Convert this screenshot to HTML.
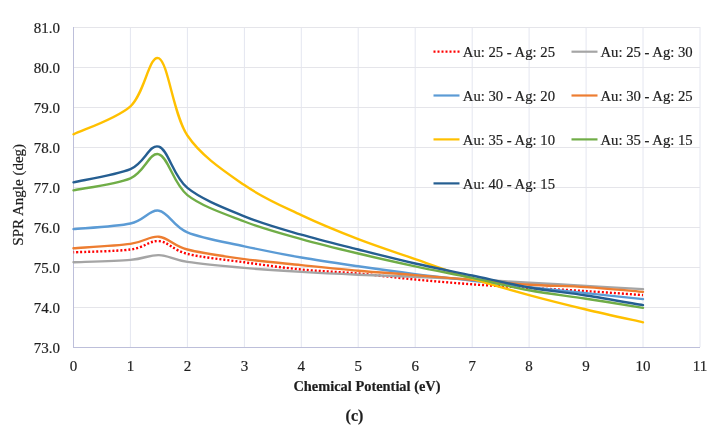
<!DOCTYPE html>
<html><head><meta charset="utf-8"><style>
html,body{margin:0;padding:0;background:#fff;}
body{width:715px;height:432px;overflow:hidden;}
svg{display:block;will-change:transform;}
text{font-family:"Liberation Serif",serif;fill:#1e1e1e;stroke:#1e1e1e;stroke-width:0.2px;}
.gv{stroke:#E4E6F0;stroke-width:1;}
.gh{stroke:#E5E5EA;stroke-width:1;}
.yl{font-size:15px;text-anchor:end;}
.xl{font-size:15px;text-anchor:middle;}
.lg{font-size:14.7px;}
.ax{stroke:#BDBFDA;stroke-width:1;}
.cv path{fill:none;stroke-width:2.4;stroke-linejoin:round;stroke-linecap:round;}
.lgl line{stroke-width:2.2;}
.cv path.dot,.lgl line.dot{stroke-dasharray:2 2;stroke-linecap:butt;}
.cv path.dot{stroke-dashoffset:1.2;}
.t1{font-size:14.4px;font-weight:bold;text-anchor:middle;}
.t2{font-size:15px;}
.t3{font-size:16px;font-weight:bold;text-anchor:middle;}
</style></head><body>
<svg width="715" height="432" viewBox="0 0 715 432">
<line x1="130.4" y1="27" x2="130.4" y2="347" class="gv"/>
<line x1="187.4" y1="27" x2="187.4" y2="347" class="gv"/>
<line x1="244.4" y1="27" x2="244.4" y2="347" class="gv"/>
<line x1="301.3" y1="27" x2="301.3" y2="347" class="gv"/>
<line x1="358.2" y1="27" x2="358.2" y2="347" class="gv"/>
<line x1="415.2" y1="27" x2="415.2" y2="347" class="gv"/>
<line x1="472.2" y1="27" x2="472.2" y2="347" class="gv"/>
<line x1="529.1" y1="27" x2="529.1" y2="347" class="gv"/>
<line x1="586.1" y1="27" x2="586.1" y2="347" class="gv"/>
<line x1="643.0" y1="27" x2="643.0" y2="347" class="gv"/>
<line x1="700.0" y1="27" x2="700.0" y2="347" class="gv"/>
<line x1="73" y1="27.5" x2="700" y2="27.5" class="gh"/>
<line x1="73" y1="67.5" x2="700" y2="67.5" class="gh"/>
<line x1="73" y1="107.5" x2="700" y2="107.5" class="gh"/>
<line x1="73" y1="147.5" x2="700" y2="147.5" class="gh"/>
<line x1="73" y1="187.5" x2="700" y2="187.5" class="gh"/>
<line x1="73" y1="227.5" x2="700" y2="227.5" class="gh"/>
<line x1="73" y1="267.5" x2="700" y2="267.5" class="gh"/>
<line x1="73" y1="307.5" x2="700" y2="307.5" class="gh"/>
<line x1="73.5" y1="27" x2="73.5" y2="348" class="ax"/>
<line x1="73" y1="347.5" x2="700" y2="347.5" class="ax"/>
<text x="60" y="32.9" class="yl">81.0</text>
<text x="60" y="72.9" class="yl">80.0</text>
<text x="60" y="112.9" class="yl">79.0</text>
<text x="60" y="152.9" class="yl">78.0</text>
<text x="60" y="192.9" class="yl">77.0</text>
<text x="60" y="232.9" class="yl">76.0</text>
<text x="60" y="272.9" class="yl">75.0</text>
<text x="60" y="312.9" class="yl">74.0</text>
<text x="60" y="352.9" class="yl">73.0</text>
<text x="73.5" y="371" class="xl">0</text>
<text x="130.4" y="371" class="xl">1</text>
<text x="187.4" y="371" class="xl">2</text>
<text x="244.4" y="371" class="xl">3</text>
<text x="301.3" y="371" class="xl">4</text>
<text x="358.2" y="371" class="xl">5</text>
<text x="415.2" y="371" class="xl">6</text>
<text x="472.2" y="371" class="xl">7</text>
<text x="529.1" y="371" class="xl">8</text>
<text x="586.1" y="371" class="xl">9</text>
<text x="643.0" y="371" class="xl">10</text>
<text x="700.0" y="371" class="xl">11</text>
<g class="cv">
<path d="M73.50,252.30 C82.99,251.83 116.21,251.37 130.45,249.50 C144.69,247.63 149.43,240.37 158.93,241.10 C168.42,241.83 173.16,250.37 187.40,253.90 C201.64,257.43 225.37,259.70 244.35,262.30 C263.33,264.90 282.32,267.63 301.30,269.50 C320.28,271.37 339.27,271.83 358.25,273.50 C377.23,275.17 396.22,277.70 415.20,279.50 C434.18,281.30 453.17,282.90 472.15,284.30 C491.13,285.70 510.12,286.77 529.10,287.90 C548.08,289.03 567.07,289.90 586.05,291.10 C605.03,292.30 633.51,294.43 643.00,295.10" stroke="#FF0000" class="dot"/>
<path d="M73.50,262.30 C82.99,261.90 116.21,261.10 130.45,259.90 C144.69,258.70 149.43,254.77 158.93,255.10 C168.42,255.43 173.16,259.77 187.40,261.90 C201.64,264.03 225.37,266.23 244.35,267.90 C263.33,269.57 282.32,270.77 301.30,271.90 C320.28,273.03 339.27,273.90 358.25,274.70 C377.23,275.50 396.22,275.90 415.20,276.70 C434.18,277.50 453.17,278.50 472.15,279.50 C491.13,280.50 510.12,281.63 529.10,282.70 C548.08,283.77 567.07,284.83 586.05,285.90 C605.03,286.97 633.51,288.57 643.00,289.10" stroke="#A5A5A5"/>
<path d="M73.50,229.10 C82.99,228.17 116.21,226.57 130.45,223.50 C144.69,220.43 149.43,209.23 158.93,210.70 C168.42,212.17 173.16,226.37 187.40,232.30 C201.64,238.23 225.37,242.10 244.35,246.30 C263.33,250.50 282.32,254.17 301.30,257.50 C320.28,260.83 339.27,263.53 358.25,266.30 C377.23,269.07 396.22,271.70 415.20,274.10 C434.18,276.50 453.17,278.53 472.15,280.70 C491.13,282.87 510.12,285.03 529.10,287.10 C548.08,289.17 567.07,291.10 586.05,293.10 C605.03,295.10 633.51,298.10 643.00,299.10" stroke="#5B9BD5"/>
<path d="M73.50,248.30 C82.99,247.57 116.21,245.83 130.45,243.90 C144.69,241.97 149.43,235.77 158.93,236.70 C168.42,237.63 173.16,245.77 187.40,249.50 C201.64,253.23 225.37,256.50 244.35,259.10 C263.33,261.70 282.32,263.17 301.30,265.10 C320.28,267.03 339.27,269.03 358.25,270.70 C377.23,272.37 396.22,273.57 415.20,275.10 C434.18,276.63 453.17,278.30 472.15,279.90 C491.13,281.50 510.12,283.50 529.10,284.70 C548.08,285.90 567.07,285.90 586.05,287.10 C605.03,288.30 633.51,291.10 643.00,291.90" stroke="#ED7D31"/>
<path d="M73.50,134.30 C82.99,129.63 116.21,118.97 130.45,106.30 C144.69,93.63 149.43,53.43 158.93,58.30 C168.42,63.17 173.16,114.37 187.40,135.50 C201.64,156.63 225.37,171.83 244.35,185.10 C263.33,198.37 282.32,206.10 301.30,215.10 C320.28,224.10 339.27,231.77 358.25,239.10 C377.23,246.43 396.22,252.50 415.20,259.10 C434.18,265.70 453.17,272.70 472.15,278.70 C491.13,284.70 510.12,289.97 529.10,295.10 C548.08,300.23 567.07,304.97 586.05,309.50 C605.03,314.03 633.51,320.17 643.00,322.30" stroke="#FFC000"/>
<path d="M73.50,190.30 C82.99,188.30 116.21,184.30 130.45,178.30 C144.69,172.30 149.43,151.50 158.93,154.30 C168.42,157.10 173.16,183.90 187.40,195.10 C201.64,206.30 225.37,214.17 244.35,221.50 C263.33,228.83 282.32,233.77 301.30,239.10 C320.28,244.43 339.27,248.97 358.25,253.50 C377.23,258.03 396.22,262.23 415.20,266.30 C434.18,270.37 453.17,273.90 472.15,277.90 C491.13,281.90 510.12,286.83 529.10,290.30 C548.08,293.77 567.07,295.77 586.05,298.70 C605.03,301.63 633.51,306.37 643.00,307.90" stroke="#70AD47"/>
<path d="M73.50,182.30 C82.99,180.10 116.21,175.03 130.45,169.10 C144.69,163.17 149.43,143.57 158.93,146.70 C168.42,149.83 173.16,176.30 187.40,187.90 C201.64,199.50 225.37,208.50 244.35,216.30 C263.33,224.10 282.32,229.17 301.30,234.70 C320.28,240.23 339.27,244.70 358.25,249.50 C377.23,254.30 396.22,259.17 415.20,263.50 C434.18,267.83 453.17,271.50 472.15,275.50 C491.13,279.50 510.12,284.17 529.10,287.50 C548.08,290.83 567.07,292.57 586.05,295.50 C605.03,298.43 633.51,303.50 643.00,305.10" stroke="#255E91"/>
</g>
<g class="lgl">
<line x1="433.5" y1="51.7" x2="459.5" y2="51.7" stroke="#FF0000" class="dot"/>
<text x="462.8" y="56.9" class="lg">Au: 25 - Ag: 25</text>
<line x1="571.5" y1="51.7" x2="597.5" y2="51.7" stroke="#A5A5A5"/>
<text x="600.5" y="56.9" class="lg">Au: 25 - Ag: 30</text>
<line x1="433.5" y1="95.5" x2="459.5" y2="95.5" stroke="#5B9BD5"/>
<text x="462.8" y="100.7" class="lg">Au: 30 - Ag: 20</text>
<line x1="571.5" y1="95.5" x2="597.5" y2="95.5" stroke="#ED7D31"/>
<text x="600.5" y="100.7" class="lg">Au: 30 - Ag: 25</text>
<line x1="433.5" y1="139.4" x2="459.5" y2="139.4" stroke="#FFC000"/>
<text x="462.8" y="144.6" class="lg">Au: 35 - Ag: 10</text>
<line x1="571.5" y1="139.4" x2="597.5" y2="139.4" stroke="#70AD47"/>
<text x="600.5" y="144.6" class="lg">Au: 35 - Ag: 15</text>
<line x1="433.5" y1="183.4" x2="459.5" y2="183.4" stroke="#255E91"/>
<text x="462.8" y="188.6" class="lg">Au: 40 - Ag: 15</text>
</g>
<text class="t2" transform="translate(22.5,194.8) rotate(-90)" text-anchor="middle">SPR Angle (deg)</text>
<text x="367" y="391" class="t1">Chemical Potential (eV)</text>
<text x="354.5" y="420.5" class="t3">(c)</text>
</svg>
</body></html>
